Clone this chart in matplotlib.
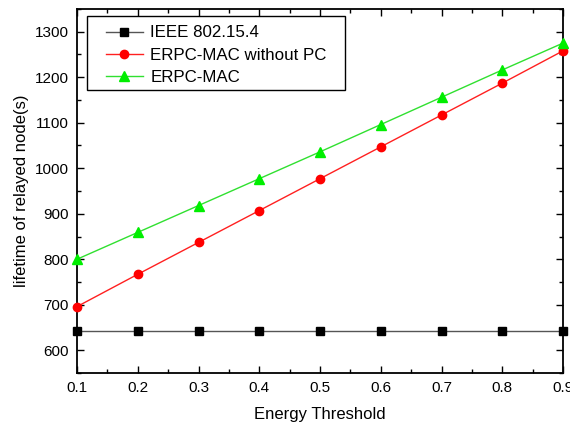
import matplotlib
matplotlib.use("Agg")
import matplotlib.pyplot as plt
from matplotlib.patches import Rectangle
from matplotlib.ticker import MultipleLocator

plt.rcParams['font.family'] = ['Liberation Sans', 'DejaVu Sans']

thresholds = [0.1, 0.2, 0.3, 0.4, 0.5, 0.6, 0.7, 0.8, 0.9]
ieee = [642, 642, 642, 642, 642, 642, 642, 642, 642]
erpc_no_pc = [696, 767, 837, 907, 977, 1047, 1117, 1187, 1258]
erpc = [800, 859, 918, 977, 1036, 1096, 1156, 1216, 1275]
x_ticks = [0.1, 0.2, 0.3, 0.4, 0.5, 0.6, 0.7, 0.8, 0.9]
y_ticks = [600, 700, 800, 900, 1000, 1100, 1200, 1300]

fig = plt.figure(figsize=(5.7, 4.23), dpi=100)
ax = fig.add_axes([0.135, 0.118, 0.853, 0.861])

ax.plot(thresholds, ieee, color='#555555', lw=1.0, marker='s', ms=5.5,
        mfc='black', mec='black', label='IEEE 802.15.4', clip_on=False, zorder=3)
ax.plot(thresholds, erpc_no_pc, color='#ff2020', lw=1.0, marker='o', ms=6,
        mfc='#ff0000', mec='#ff0000', label='ERPC-MAC without PC', clip_on=False, zorder=3)
ax.plot(thresholds, erpc, color='#30e030', lw=1.0, marker='^', ms=6.5,
        mfc='#00ee00', mec='#00ee00', label='ERPC-MAC', clip_on=False, zorder=3)

ax.set_xlim(0.1, 0.9)
ax.set_ylim(550, 1350)
ax.set_xticks(x_ticks)
ax.set_xticklabels([f'{v:.1f}' for v in x_ticks])
ax.xaxis.set_minor_locator(MultipleLocator(0.05))
ax.set_yticks(y_ticks)
ax.yaxis.set_minor_locator(MultipleLocator(50))

ax.tick_params(which='both', direction='in', top=True, right=True,
               labelsize=11, width=1.0)
ax.tick_params(which='major', length=5, pad=6)
ax.tick_params(which='minor', length=3)
for s in ax.spines.values():
    s.set_linewidth(1.3)

ax.set_xlabel('Energy Threshold', fontsize=12, labelpad=8)
ax.set_ylabel('lifetime of relayed node(s)', fontsize=12, labelpad=4)

# Legend entries without their own frame; a wider box is drawn separately
leg = ax.legend(loc='upper left', bbox_to_anchor=(0.046, 0.973), fontsize=12.2,
                frameon=False, handlelength=2.15, borderpad=0.4,
                labelspacing=0.42, handletextpad=0.45, borderaxespad=0.0)
leg.set_zorder(6)
box = Rectangle((0.0206, 0.777), 0.5304, 0.204, transform=ax.transAxes,
                facecolor='white', edgecolor='black', lw=1.0, zorder=5)
ax.add_patch(box)

fig.savefig('out.png', dpi=100)
